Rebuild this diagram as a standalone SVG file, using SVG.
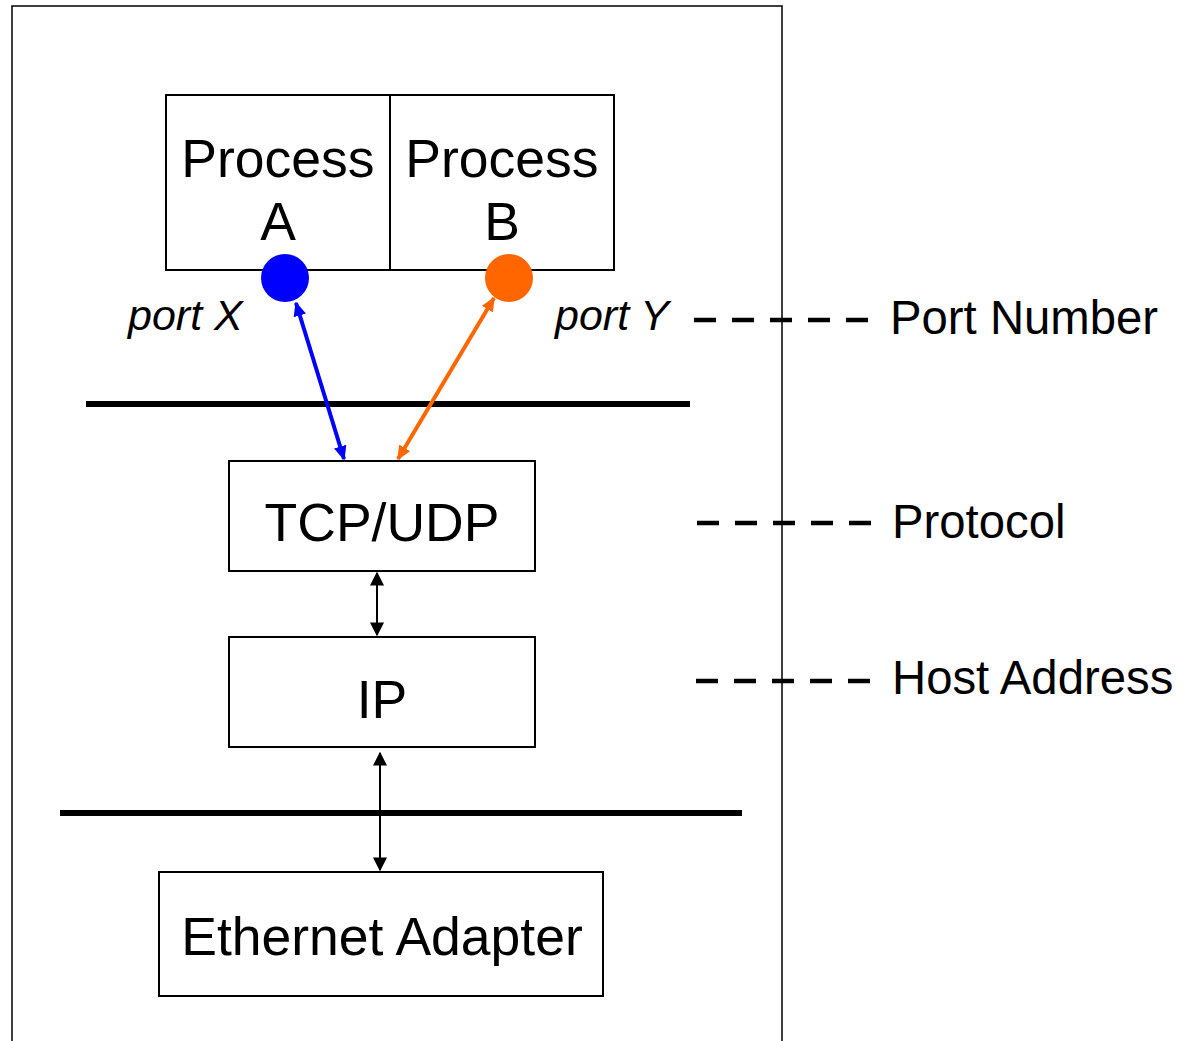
<svg xmlns="http://www.w3.org/2000/svg" width="1189" height="1041" viewBox="0 0 1189 1041">
<style>
.box{fill:#fff;stroke:#000;stroke-width:2}
.t{font-family:"Liberation Sans",Arial,sans-serif;font-size:53.5px;fill:#000;text-anchor:middle}
.lbl{font-family:"Liberation Sans",Arial,sans-serif;font-size:47.3px;fill:#000}
.port{font-family:"Liberation Sans",Arial,sans-serif;font-size:43px;font-style:italic;fill:#000}
.dash{stroke:#000;stroke-width:4.5;stroke-dasharray:22 16;fill:none}
.bar{stroke:#000;stroke-width:6}
</style>
<defs>
<marker id="hb" viewBox="0 0 10 10" refX="9" refY="5" markerWidth="3.6" markerHeight="3.2" orient="auto-start-reverse" markerUnits="strokeWidth" preserveAspectRatio="none"><path d="M0,0 L10,5 L0,10 z" fill="#0000ff"/></marker>
<marker id="ho" viewBox="0 0 10 10" refX="9" refY="5" markerWidth="3.6" markerHeight="3.2" orient="auto-start-reverse" markerUnits="strokeWidth" preserveAspectRatio="none"><path d="M0,0 L10,5 L0,10 z" fill="#ff6600"/></marker>
<marker id="hk" viewBox="0 0 10 10" refX="9" refY="5" markerWidth="7" markerHeight="7" orient="auto-start-reverse" markerUnits="strokeWidth"><path d="M0,0 L10,5 L0,10 z" fill="#000"/></marker>
</defs>
<rect x="0" y="0" width="1189" height="1041" fill="#fff"/>
<path d="M12,1045 V6 H782 V1045" fill="none" stroke="#000" stroke-width="1.5"/>
<line class="bar" x1="86" y1="404" x2="690" y2="404"/>
<line class="bar" x1="60" y1="813" x2="742" y2="813"/>
<g id="processA"><rect class="box" x="166" y="95" width="224" height="175"/><text class="t" x="278" y="177">Process</text><text class="t" x="278" y="240">A</text></g>
<g id="processB"><rect class="box" x="390" y="95" width="224" height="175"/><text class="t" x="502" y="177">Process</text><text class="t" x="502" y="240">B</text></g>
<g id="portX"><circle cx="285" cy="278" r="24" fill="#0000ff"/><text class="port" x="128" y="330">port X</text></g>
<g id="portY"><circle cx="509" cy="278" r="24" fill="#ff6600"/><text class="port" x="555" y="330">port Y</text></g>
<g id="tcp"><rect class="box" x="229" y="461" width="306" height="110"/><text class="t" x="382" y="541">TCP/UDP</text></g>
<g id="ip"><rect class="box" x="229" y="637" width="306" height="110"/><text class="t" x="382" y="718">IP</text></g>
<g id="eth"><rect class="box" x="159" y="872" width="444" height="124"/><text class="t" x="382" y="955">Ethernet Adapter</text></g>
<g id="connectors">
<line x1="296" y1="303" x2="344" y2="459" stroke="#0000ff" stroke-width="4" marker-start="url(#hb)" marker-end="url(#hb)"/>
<line x1="494" y1="298" x2="398" y2="459" stroke="#ff6600" stroke-width="4" marker-start="url(#ho)" marker-end="url(#ho)"/>
<line x1="377" y1="573" x2="377" y2="635" stroke="#000" stroke-width="2" marker-start="url(#hk)" marker-end="url(#hk)"/>
<line x1="380" y1="753" x2="380" y2="870" stroke="#000" stroke-width="2" marker-start="url(#hk)" marker-end="url(#hk)"/>
<line class="dash" x1="694" y1="320" x2="870" y2="320"/>
<line class="dash" x1="697" y1="523" x2="873" y2="523"/>
<line class="dash" x1="696" y1="681" x2="872" y2="681"/>
</g>
<g id="legend">
<text class="lbl" x="890" y="334">Port Number</text>
<text class="lbl" x="892" y="538">Protocol</text>
<text class="lbl" x="892" y="694">Host Address</text>
</g>
</svg>
